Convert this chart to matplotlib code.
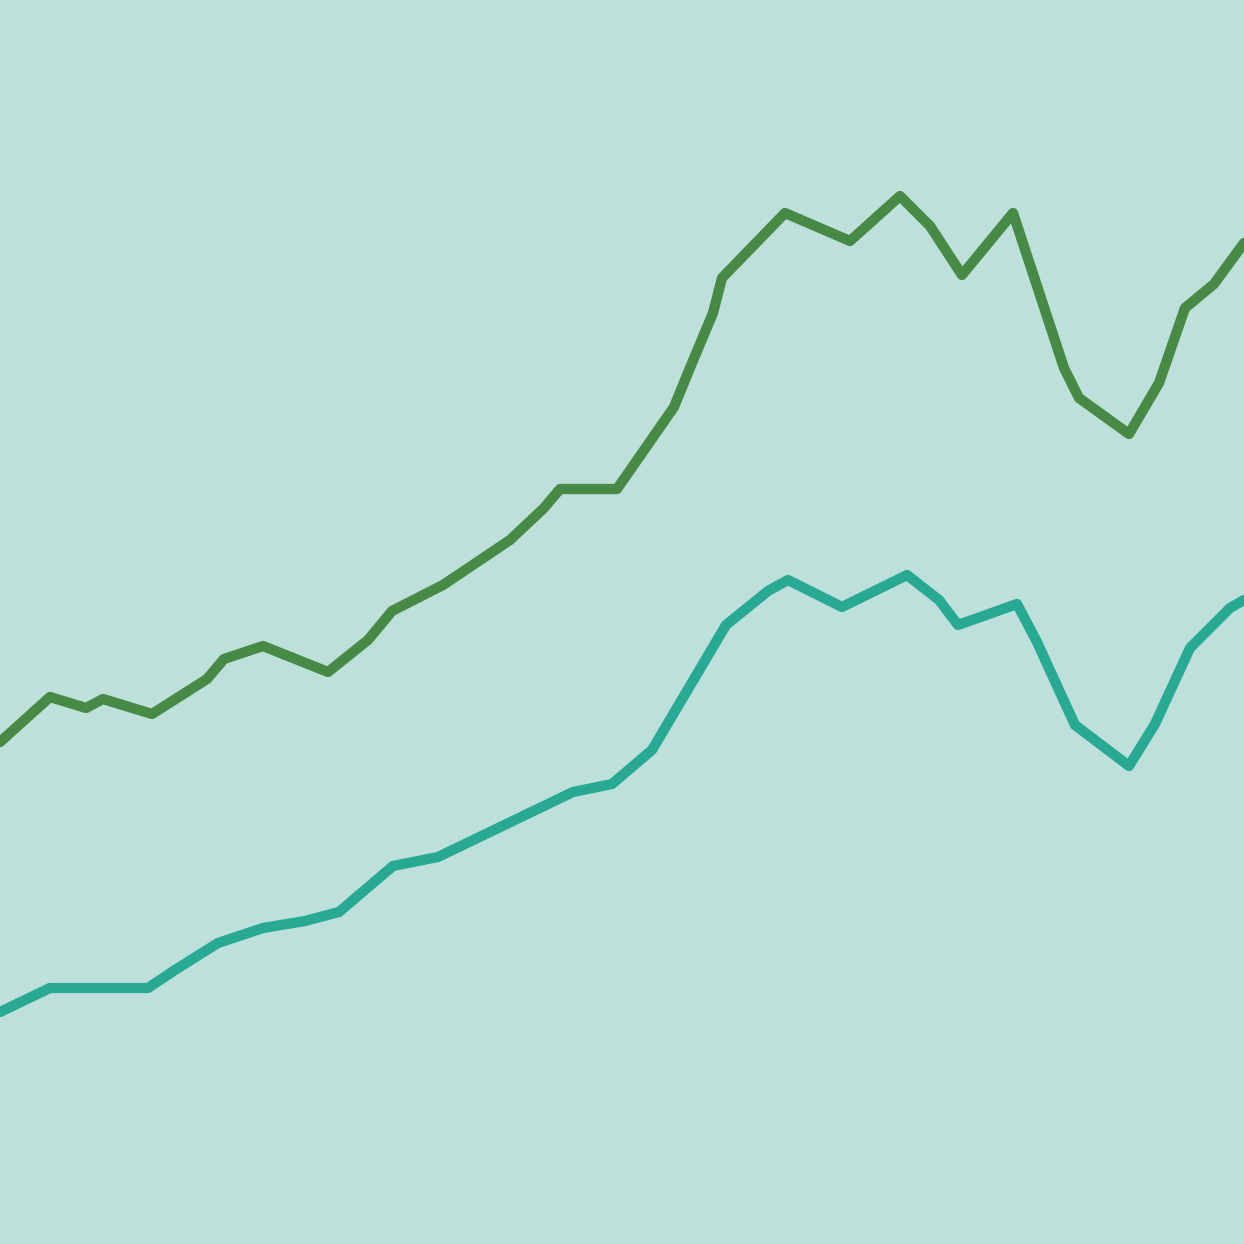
import matplotlib
matplotlib.use("Agg")
import matplotlib.pyplot as plt

# upper (dark green) series
upper_x = [0, 50, 86, 103, 152, 207, 224, 263, 328, 368, 392, 443, 510, 544, 560,
           617, 674, 692, 713, 722, 785, 850, 900, 930, 962, 1013, 1064, 1079, 1129,
           1159, 1185, 1214, 1244]
upper_y = [742, 697, 708, 699, 714, 679, 659, 646, 672, 640, 611, 585, 540, 508, 489,
           489, 407, 363, 313, 278, 213, 241, 196, 226, 275, 213, 368, 398, 434,
           383, 308, 284, 243]

# lower (teal) series
lower_x = [0, 50, 148, 175, 218, 263, 305, 339, 393, 438, 573, 612, 652, 726, 768, 788,
           842, 907, 939, 958, 1017, 1037, 1075, 1129, 1155, 1190, 1230, 1244]
lower_y = [1012, 988, 988, 970, 943, 928, 921, 912, 866, 857, 792, 784, 750, 625, 591, 580,
           607, 575, 600, 625, 604, 642, 725, 766, 724, 648, 608, 600]

bg = "#bee0da"

fig = plt.figure(figsize=(12.44, 12.44), dpi=100, facecolor=bg)
ax = fig.add_axes([0, 0, 1, 1])
ax.set_facecolor(bg)

ax.plot(upper_x, upper_y, color="#468a45", lw=7.4, solid_joinstyle="round", solid_capstyle="round")
ax.plot(lower_x, lower_y, color="#28a994", lw=7.4, solid_joinstyle="round", solid_capstyle="round")

ax.set_xlim(0, 1244)
ax.set_ylim(1244, 0)
ax.axis("off")

fig.savefig("out.png", dpi=100, facecolor=bg)
